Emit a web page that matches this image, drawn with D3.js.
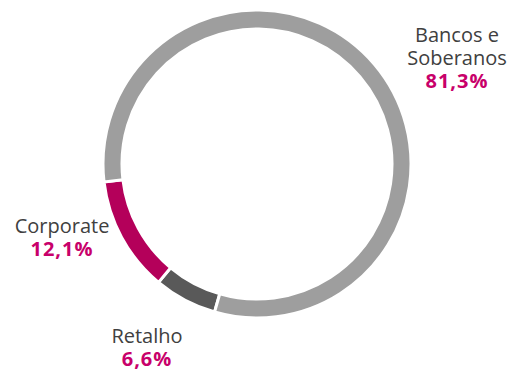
<!DOCTYPE html>
<html>
<head>
<meta charset="utf-8">
<script src="https://cdn.jsdelivr.net/npm/d3@7"></script>
<style>
	body { margin: 0; background: #fff; }
	text { font-family: 'Open Sans', sans-serif; }
</style>
</head>
<body>
<svg id="chart" width="512" height="371"></svg>
<script>
// dados
let categories = ['Retalho', 'Corporate', 'Bancos e Soberanos'];
let values = [6.6, 12.1, 81.3];
let value_labels = ['6,6%', '12,1%', '81,3%'];

let slice_color = {
	'Retalho': '#595959',
	'Corporate': '#b4005a',
	'Bancos e Soberanos': '#9e9e9e'
};

let svg = d3.select('#chart');

let cx = 257;
let cy = 164;
let outer = 154;
let inner = 135;

let pie = d3.pie()
	.sort(null)
	.value(d => d.value)
	.startAngle(196 * Math.PI / 180)
	.endAngle(196 * Math.PI / 180 + 2 * Math.PI);

let arc = d3.arc()
	.innerRadius(inner)
	.outerRadius(outer);

let data = categories.map((c, i) => ({ name: c, value: values[i], label: value_labels[i] }));

let chart = svg.append('g')
	.attr('transform', 'translate(' + cx + ', ' + cy + ')');

chart.selectAll('path')
	.data(pie(data))
	.enter()
	.append('path')
	.attr('d', arc)
	.attr('fill', d => slice_color[d.data.name])
	.attr('stroke', '#fff')
	.attr('stroke-width', 3);

// rótulos
let label_pos = {
	'Bancos e Soberanos': { x: 457, y: 42, lines: ['Bancos e', 'Soberanos'] },
	'Corporate': { x: 62, y: 233, lines: ['Corporate'] },
	'Retalho': { x: 147, y: 343, lines: ['Retalho'] }
};

data.forEach(function(d) {
	let p = label_pos[d.name];
	let y = p.y;
	p.lines.forEach(function(line, i) {
		if (i > 0) y += 23;
		svg.append('text')
			.attr('x', p.x)
			.attr('y', y)
			.attr('text-anchor', 'middle')
			.attr('fill', '#404040')
			.style('font-size', '20px')
			.text(line);
	});
	svg.append('text')
		.attr('x', p.x)
		.attr('y', y + 23)
		.attr('text-anchor', 'middle')
		.attr('fill', '#c8006a')
		.style('font-size', '20px')
		.style('font-weight', 'bold')
		.style('letter-spacing', '1px')
		.text(d.label);
});
</script>
</body>
</html>
